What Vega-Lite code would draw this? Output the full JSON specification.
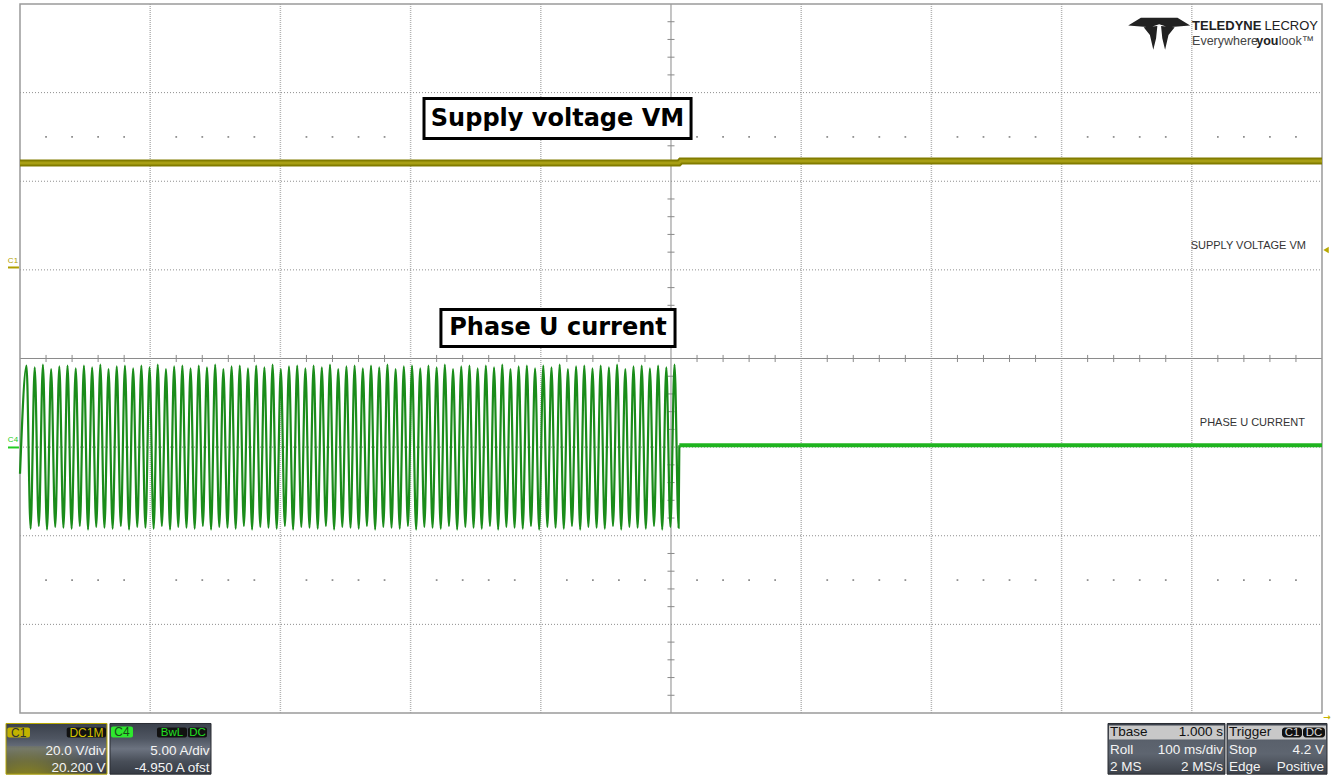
{
"$schema": "https://vega.github.io/schema/vega-lite/v6.json",
"width": 1333, "height": 775,
"autosize": {"type": "none"},
"padding": 0,
"background": "white",
"config": {"view": {"stroke": null}, "axis": {"disable": true}},
"data": {"values": [{}]},
"datasets": {
"gx": [{"v":1},{"v":2},{"v":3},{"v":4},{"v":6},{"v":7},{"v":8},{"v":9}],
"gy": [{"v":-3},{"v":-2},{"v":-1},{"v":1},{"v":2},{"v":3}],
"tx": [{"v":0.2},{"v":0.4},{"v":0.6},{"v":0.8},{"v":1.2},{"v":1.4},{"v":1.6},{"v":1.8},{"v":2.2},{"v":2.4},{"v":2.6},{"v":2.8},{"v":3.2},{"v":3.4},{"v":3.6},{"v":3.8},{"v":4.2},{"v":4.4},{"v":4.6},{"v":4.8},{"v":5.2},{"v":5.4},{"v":5.6},{"v":5.8},{"v":6.2},{"v":6.4},{"v":6.6},{"v":6.8},{"v":7.2},{"v":7.4},{"v":7.6},{"v":7.8},{"v":8.2},{"v":8.4},{"v":8.6},{"v":8.8},{"v":9.2},{"v":9.4},{"v":9.6},{"v":9.8}],
"ty": [{"v":-3.8},{"v":-3.6},{"v":-3.4},{"v":-3.2},{"v":-2.8},{"v":-2.6},{"v":-2.4},{"v":-2.2},{"v":-1.8},{"v":-1.6},{"v":-1.4},{"v":-1.2},{"v":-0.8},{"v":-0.6},{"v":-0.4},{"v":-0.2},{"v":0.2},{"v":0.4},{"v":0.6},{"v":0.8},{"v":1.2},{"v":1.4},{"v":1.6},{"v":1.8},{"v":2.2},{"v":2.4},{"v":2.6},{"v":2.8},{"v":3.2},{"v":3.4},{"v":3.6},{"v":3.8}],
"vm": [{"t":0,"v":2.205},{"t":5.06,"v":2.205},{"t":5.075,"v":2.228},{"t":10,"v":2.228}],
"flat": [{"t":5.064,"v":-0.978},{"t":10,"v":-0.978}],
"osc": [{"t":0.0,"v":-1.3},
{"t":0.050,"v":-0.08},{"t":0.0815,"v":-1.92},{"t":0.113,"v":-0.10},{"t":0.1445,"v":-1.89},{"t":0.176,"v":-0.07},{"t":0.2075,"v":-1.93},{"t":0.239,"v":-0.12},{"t":0.2705,"v":-1.90},{"t":0.302,"v":-0.09},{"t":0.3335,"v":-1.91},
{"t":0.365,"v":-0.08},{"t":0.3965,"v":-1.92},{"t":0.428,"v":-0.11},{"t":0.4595,"v":-1.89},{"t":0.491,"v":-0.08},{"t":0.5225,"v":-1.93},{"t":0.554,"v":-0.10},{"t":0.5855,"v":-1.90},{"t":0.617,"v":-0.07},{"t":0.6485,"v":-1.91},
{"t":0.680,"v":-0.12},{"t":0.7115,"v":-1.92},{"t":0.743,"v":-0.09},{"t":0.7745,"v":-1.89},{"t":0.806,"v":-0.08},{"t":0.8375,"v":-1.93},{"t":0.869,"v":-0.11},{"t":0.9005,"v":-1.90},{"t":0.932,"v":-0.08},{"t":0.9635,"v":-1.91},
{"t":0.995,"v":-0.10},{"t":1.0265,"v":-1.92},{"t":1.058,"v":-0.07},{"t":1.0895,"v":-1.89},{"t":1.121,"v":-0.12},{"t":1.1525,"v":-1.93},{"t":1.184,"v":-0.09},{"t":1.2155,"v":-1.90},{"t":1.247,"v":-0.08},{"t":1.2785,"v":-1.91},
{"t":1.310,"v":-0.11},{"t":1.3415,"v":-1.92},{"t":1.373,"v":-0.08},{"t":1.4045,"v":-1.89},{"t":1.436,"v":-0.10},{"t":1.4675,"v":-1.93},{"t":1.499,"v":-0.07},{"t":1.5305,"v":-1.90},{"t":1.562,"v":-0.12},{"t":1.5935,"v":-1.91},
{"t":1.625,"v":-0.09},{"t":1.6565,"v":-1.92},{"t":1.688,"v":-0.08},{"t":1.7195,"v":-1.89},{"t":1.751,"v":-0.11},{"t":1.7825,"v":-1.93},{"t":1.814,"v":-0.08},{"t":1.8455,"v":-1.90},{"t":1.877,"v":-0.10},{"t":1.9085,"v":-1.91},
{"t":1.940,"v":-0.07},{"t":1.9715,"v":-1.92},{"t":2.003,"v":-0.12},{"t":2.0345,"v":-1.89},{"t":2.066,"v":-0.09},{"t":2.0975,"v":-1.93},{"t":2.129,"v":-0.08},{"t":2.1605,"v":-1.90},{"t":2.192,"v":-0.11},{"t":2.2235,"v":-1.91},
{"t":2.255,"v":-0.08},{"t":2.2865,"v":-1.92},{"t":2.318,"v":-0.10},{"t":2.3495,"v":-1.89},{"t":2.381,"v":-0.07},{"t":2.4125,"v":-1.93},{"t":2.444,"v":-0.12},{"t":2.4755,"v":-1.90},{"t":2.507,"v":-0.09},{"t":2.5385,"v":-1.91},
{"t":2.570,"v":-0.08},{"t":2.6015,"v":-1.92},{"t":2.633,"v":-0.11},{"t":2.6645,"v":-1.89},{"t":2.696,"v":-0.08},{"t":2.7275,"v":-1.93},{"t":2.759,"v":-0.10},{"t":2.7905,"v":-1.90},{"t":2.822,"v":-0.07},{"t":2.8535,"v":-1.91},
{"t":2.885,"v":-0.12},{"t":2.9165,"v":-1.92},{"t":2.948,"v":-0.09},{"t":2.9795,"v":-1.89},{"t":3.011,"v":-0.08},{"t":3.0425,"v":-1.93},{"t":3.074,"v":-0.11},{"t":3.1055,"v":-1.90},{"t":3.137,"v":-0.08},{"t":3.1685,"v":-1.91},
{"t":3.200,"v":-0.10},{"t":3.2315,"v":-1.92},{"t":3.263,"v":-0.07},{"t":3.2945,"v":-1.89},{"t":3.326,"v":-0.12},{"t":3.3575,"v":-1.93},{"t":3.389,"v":-0.09},{"t":3.4205,"v":-1.90},{"t":3.452,"v":-0.08},{"t":3.4835,"v":-1.91},
{"t":3.515,"v":-0.11},{"t":3.5465,"v":-1.92},{"t":3.578,"v":-0.08},{"t":3.6095,"v":-1.89},{"t":3.641,"v":-0.10},{"t":3.6725,"v":-1.93},{"t":3.704,"v":-0.07},{"t":3.7355,"v":-1.90},{"t":3.767,"v":-0.12},{"t":3.7985,"v":-1.91},
{"t":3.830,"v":-0.09},{"t":3.8615,"v":-1.92},{"t":3.893,"v":-0.08},{"t":3.9245,"v":-1.89},{"t":3.956,"v":-0.11},{"t":3.9875,"v":-1.93},{"t":4.019,"v":-0.08},{"t":4.0505,"v":-1.90},{"t":4.082,"v":-0.10},{"t":4.1135,"v":-1.91},
{"t":4.145,"v":-0.07},{"t":4.1765,"v":-1.92},{"t":4.208,"v":-0.12},{"t":4.2395,"v":-1.89},{"t":4.271,"v":-0.09},{"t":4.3025,"v":-1.93},{"t":4.334,"v":-0.08},{"t":4.3655,"v":-1.90},{"t":4.397,"v":-0.11},{"t":4.4285,"v":-1.91},
{"t":4.460,"v":-0.08},{"t":4.4915,"v":-1.92},{"t":4.523,"v":-0.10},{"t":4.5545,"v":-1.89},{"t":4.586,"v":-0.07},{"t":4.6175,"v":-1.93},{"t":4.649,"v":-0.12},{"t":4.6805,"v":-1.90},{"t":4.712,"v":-0.09},{"t":4.7435,"v":-1.91},
{"t":4.775,"v":-0.08},{"t":4.8065,"v":-1.92},{"t":4.838,"v":-0.11},{"t":4.8695,"v":-1.89},{"t":4.901,"v":-0.08},{"t":4.9325,"v":-1.93},{"t":4.964,"v":-0.10},{"t":4.9955,"v":-1.90},{"t":5.027,"v":-0.07},{"t":5.0585,"v":-1.91},
{"t":5.064,"v":-0.978}]
},
"layer": [
{"data": {"name": "gx"}, "mark": {"type": "rule", "color": "#b4b4b4", "strokeWidth": 1.5, "strokeDash": [1, 1]},
 "encoding": {"x": {"field": "v", "type": "quantitative", "scale": {"domain": [-0.1536, 10.0845], "nice": false, "zero": false}},
  "y": {"datum": -4, "scale": {"domain": [-4.6996, 4.0451], "nice": false, "zero": false}}, "y2": {"datum": 4}}},
{"data": {"name": "gy"}, "mark": {"type": "rule", "color": "#8c8c8c", "strokeWidth": 1, "strokeDash": [1, 2]},
 "encoding": {"y": {"field": "v", "type": "quantitative"}, "x": {"datum": 0}, "x2": {"datum": 10}}},
{"mark": {"type": "rule", "color": "#8a8a8a", "strokeWidth": 1}, "encoding": {"x": {"datum": 5}, "y": {"datum": -4}, "y2": {"datum": 4}}},
{"mark": {"type": "rule", "color": "#8a8a8a", "strokeWidth": 1}, "encoding": {"y": {"datum": 0}, "x": {"datum": 0}, "x2": {"datum": 10}}},
{"data": {"name": "tx"}, "mark": {"type": "rule", "color": "#8a8a8a", "strokeWidth": 1},
 "encoding": {"x": {"field": "v", "type": "quantitative"}, "y": {"datum": -0.04}, "y2": {"datum": 0.04}}},
{"data": {"name": "ty"}, "mark": {"type": "rule", "color": "#8a8a8a", "strokeWidth": 1},
 "encoding": {"y": {"field": "v", "type": "quantitative"}, "x": {"datum": 4.973}, "x2": {"datum": 5.027}}},
{"data": {"name": "tx"}, "mark": {"type": "square", "size": 3, "color": "#8a8a8a", "opacity": 1},
 "encoding": {"x": {"field": "v", "type": "quantitative"}, "y": {"datum": 2.5}}},
{"data": {"name": "tx"}, "mark": {"type": "square", "size": 3, "color": "#8a8a8a", "opacity": 1},
 "encoding": {"x": {"field": "v", "type": "quantitative"}, "y": {"datum": -2.5}}},
{"mark": {"type": "rect", "filled": false, "stroke": "#9a9a9a", "strokeWidth": 1.5},
 "encoding": {"x": {"datum": 0}, "x2": {"datum": 10}, "y": {"datum": -4}, "y2": {"datum": 4}}},
{"data": {"name": "vm"}, "mark": {"type": "line", "color": "#827c00", "strokeWidth": 7},
 "encoding": {"x": {"field": "t", "type": "quantitative"}, "y": {"field": "v", "type": "quantitative"}}},
{"data": {"name": "vm"}, "mark": {"type": "line", "color": "#a89f14", "strokeWidth": 3},
 "encoding": {"x": {"field": "t", "type": "quantitative"}, "y": {"field": "v", "type": "quantitative"}}},
{"data": {"name": "osc"}, "mark": {"type": "line", "color": "#1a8c1a", "strokeWidth": 2.2, "interpolate": "monotone"},
 "encoding": {"x": {"field": "t", "type": "quantitative"}, "y": {"field": "v", "type": "quantitative"}}},
{"data": {"name": "flat"}, "mark": {"type": "line", "color": "#1fb41f", "strokeWidth": 4},
 "encoding": {"x": {"field": "t", "type": "quantitative"}, "y": {"field": "v", "type": "quantitative"}}},
{"mark": {"type": "rect", "fill": "white", "stroke": "black", "strokeWidth": 3},
 "encoding": {"x": {"datum": 3.103}, "x2": {"datum": 5.154}, "y": {"datum": 2.934}, "y2": {"datum": 2.482}}},
{"mark": {"type": "text", "text": "Supply voltage VM", "font": "DejaVu Sans", "fontWeight": "bold", "fontSize": 24, "color": "black", "align": "center", "baseline": "middle"},
 "encoding": {"x": {"datum": 4.128}, "y": {"datum": 2.70}}},
{"mark": {"type": "rect", "fill": "white", "stroke": "black", "strokeWidth": 3},
 "encoding": {"x": {"datum": 3.233}, "x2": {"datum": 5.031}, "y": {"datum": 0.553}, "y2": {"datum": 0.135}}},
{"mark": {"type": "text", "text": "Phase U current", "font": "DejaVu Sans", "fontWeight": "bold", "fontSize": 24, "color": "black", "align": "center", "baseline": "middle"},
 "encoding": {"x": {"datum": 4.132}, "y": {"datum": 0.34}}},
{"mark": {"type": "text", "text": "SUPPLY VOLTAGE VM", "font": "Liberation Sans", "fontSize": 11, "color": "#333333", "align": "right", "baseline": "middle"},
 "encoding": {"x": {"datum": 9.877}, "y": {"datum": 1.275}}},
{"mark": {"type": "text", "text": "PHASE U CURRENT", "font": "Liberation Sans", "fontSize": 11, "color": "#333333", "align": "right", "baseline": "middle"},
 "encoding": {"x": {"datum": 9.869}, "y": {"datum": -0.733}}},
{"mark": {"type": "point", "shape": "triangle-left", "filled": true, "size": 40, "color": "#b8a800", "opacity": 1},
 "encoding": {"x": {"datum": 10.031}, "y": {"datum": 1.224}}},
{"mark": {"type": "text", "text": "C1", "font": "Liberation Sans", "fontSize": 8, "color": "#b0a000", "align": "center", "baseline": "middle"},
 "encoding": {"x": {"datum": -0.054}, "y": {"datum": 1.10}}},
{"mark": {"type": "rule", "color": "#b0a000", "strokeWidth": 2}, "encoding": {"x": {"datum": -0.092}, "x2": {"datum": -0.008}, "y": {"datum": 1.027}}},
{"mark": {"type": "text", "text": "C4", "font": "Liberation Sans", "fontSize": 8, "color": "#22cc22", "align": "center", "baseline": "middle"},
 "encoding": {"x": {"datum": -0.054}, "y": {"datum": -0.914}}},
{"mark": {"type": "rule", "color": "#22cc22", "strokeWidth": 2}, "encoding": {"x": {"datum": -0.092}, "x2": {"datum": -0.008}, "y": {"datum": -1.004}}},
{"mark": {"type": "point", "shape": "M-1,-0.26L-0.59,-0.51L0.59,-0.51L1,-0.26L0.3,-0.2L0,-0.3L-0.3,-0.2Z M-0.5,-0.2L-0.06,-0.24L-0.1,0.15L-0.19,0.52L-0.3,0.05Z M0.06,-0.24L0.5,-0.2L0.3,0.05L0.19,0.52L0.1,0.15Z", "filled": true, "size": 3844, "color": "#222222", "opacity": 1},
 "encoding": {"x": {"datum": 8.7496}, "y": {"datum": 3.667}}},
{"mark": {"type": "text", "text": "TELEDYNE", "font": "Liberation Sans", "fontWeight": "bold", "fontSize": 13, "color": "#222222", "align": "left", "baseline": "middle"},
 "encoding": {"x": {"datum": 9.002}, "y": {"datum": 3.757}}},
{"mark": {"type": "text", "text": "LECROY", "font": "Liberation Sans", "fontSize": 13, "color": "#222222", "align": "right", "baseline": "middle"},
 "encoding": {"x": {"datum": 9.969}, "y": {"datum": 3.757}}},
{"mark": {"type": "text", "text": "Everywhere", "font": "Liberation Sans", "fontSize": 12.5, "color": "#444444", "align": "left", "baseline": "middle"},
 "encoding": {"x": {"datum": 9.002}, "y": {"datum": 3.583}}},
{"mark": {"type": "text", "text": "you", "font": "Liberation Sans", "fontWeight": "bold", "fontSize": 12.5, "color": "#222222", "align": "left", "baseline": "middle"},
 "encoding": {"x": {"datum": 9.495}, "y": {"datum": 3.583}}},
{"mark": {"type": "text", "text": "look™", "font": "Liberation Sans", "fontSize": 12.5, "color": "#444444", "align": "left", "baseline": "middle"},
 "encoding": {"x": {"datum": 9.668}, "y": {"datum": 3.583}}},
{"mark": {"type": "text", "text": "→", "font": "DejaVu Sans", "fontWeight": "bold", "fontSize": 9, "color": "#c8b400", "align": "center", "baseline": "middle"},
 "encoding": {"x": {"datum": 10.038}, "y": {"datum": -4.04}}},
{"mark": {"type": "rect", "stroke": "#b8a800", "strokeWidth": 1, "fill": {"gradient": "linear", "x1": 0, "y1": 0, "x2": 0, "y2": 1, "stops": [{"offset": 0, "color": "#3a404b"}, {"offset": 0.3, "color": "#4f5662"}, {"offset": 0.5, "color": "#6c7380"}, {"offset": 0.75, "color": "#484e58"}, {"offset": 1, "color": "#363b44"}]}},
 "encoding": {"x": {"datum": -0.1075}, "x2": {"datum": 0.6682}, "y": {"datum": -4.1185}, "y2": {"datum": -4.69}}},
{"mark": {"type": "rect", "fill": {"gradient": "radial", "x1": 0.2, "y1": 1, "r1": 0, "x2": 0.2, "y2": 1, "r2": 0.8, "stops": [{"offset": 0, "color": "rgba(215,200,0,1)"}, {"offset": 0.5, "color": "rgba(170,160,20,0.6)"}, {"offset": 1, "color": "rgba(120,120,60,0)"}]}},
 "encoding": {"x": {"datum": -0.1075}, "x2": {"datum": 0.6682}, "y": {"datum": -4.38}, "y2": {"datum": -4.69}}},
{"mark": {"type": "rect", "fill": "#c2b200", "cornerRadius": 2}, "encoding": {"x": {"datum": -0.0975}, "x2": {"datum": 0.0768}, "y": {"datum": -4.164}, "y2": {"datum": -4.276}}},
{"mark": {"type": "text", "text": "C1", "font": "Liberation Sans", "fontSize": 12, "color": "#333333", "align": "center", "baseline": "middle"}, "encoding": {"x": {"datum": -0.01}, "y": {"datum": -4.222}}},
{"mark": {"type": "rect", "fill": "#111111", "cornerRadius": 2}, "encoding": {"x": {"datum": 0.3587}, "x2": {"datum": 0.6605}, "y": {"datum": -4.164}, "y2": {"datum": -4.276}}},
{"mark": {"type": "text", "text": "DC1M", "font": "Liberation Sans", "fontSize": 12, "color": "#d4c200", "align": "center", "baseline": "middle"}, "encoding": {"x": {"datum": 0.51}, "y": {"datum": -4.222}}},
{"mark": {"type": "text", "text": "20.0 V/div", "font": "Liberation Sans", "fontSize": 13.5, "color": "#f4f4f4", "align": "right", "baseline": "middle"}, "encoding": {"x": {"datum": 0.6567}, "y": {"datum": -4.429}}},
{"mark": {"type": "text", "text": "20.200 V", "font": "Liberation Sans", "fontSize": 13.5, "color": "#f4f4f4", "align": "right", "baseline": "middle"}, "encoding": {"x": {"datum": 0.6567}, "y": {"datum": -4.615}}},
{"mark": {"type": "rect", "stroke": "#2a2d33", "strokeWidth": 1, "fill": {"gradient": "linear", "x1": 0, "y1": 0, "x2": 0, "y2": 1, "stops": [{"offset": 0, "color": "#3a404b"}, {"offset": 0.3, "color": "#4f5662"}, {"offset": 0.5, "color": "#6c7380"}, {"offset": 0.75, "color": "#484e58"}, {"offset": 1, "color": "#363b44"}]}},
 "encoding": {"x": {"datum": 0.6912}, "x2": {"datum": 1.467}, "y": {"datum": -4.1185}, "y2": {"datum": -4.69}}},
{"mark": {"type": "rect", "fill": "#2ee82e", "cornerRadius": 2}, "encoding": {"x": {"datum": 0.6989}, "x2": {"datum": 0.8679}, "y": {"datum": -4.153}, "y2": {"datum": -4.276}}},
{"mark": {"type": "text", "text": "C4", "font": "Liberation Sans", "fontSize": 12, "color": "#1a4a1a", "align": "center", "baseline": "middle"}, "encoding": {"x": {"datum": 0.7834}, "y": {"datum": -4.215}}},
{"mark": {"type": "rect", "fill": "#111111", "cornerRadius": 2}, "encoding": {"x": {"datum": 1.0522}, "x2": {"datum": 1.2826}, "y": {"datum": -4.164}, "y2": {"datum": -4.276}}},
{"mark": {"type": "text", "text": "BwL", "font": "Liberation Sans", "fontSize": 11.5, "color": "#22e022", "align": "center", "baseline": "middle"}, "encoding": {"x": {"datum": 1.1674}, "y": {"datum": -4.222}}},
{"mark": {"type": "rect", "fill": "#111111", "cornerRadius": 2}, "encoding": {"x": {"datum": 1.2903}, "x2": {"datum": 1.4363}, "y": {"datum": -4.164}, "y2": {"datum": -4.276}}},
{"mark": {"type": "text", "text": "DC", "font": "Liberation Sans", "fontSize": 11.5, "color": "#22e022", "align": "center", "baseline": "middle"}, "encoding": {"x": {"datum": 1.3633}, "y": {"datum": -4.222}}},
{"mark": {"type": "text", "text": "5.00 A/div", "font": "Liberation Sans", "fontSize": 13.5, "color": "#f4f4f4", "align": "right", "baseline": "middle"}, "encoding": {"x": {"datum": 1.4555}, "y": {"datum": -4.429}}},
{"mark": {"type": "text", "text": "-4.950 A ofst", "font": "Liberation Sans", "fontSize": 13.5, "color": "#f4f4f4", "align": "right", "baseline": "middle"}, "encoding": {"x": {"datum": 1.4555}, "y": {"datum": -4.615}}},
{"mark": {"type": "rect", "stroke": "#2a2d33", "strokeWidth": 1, "fill": {"gradient": "linear", "x1": 0, "y1": 0, "x2": 0, "y2": 1, "stops": [{"offset": 0, "color": "#3a404b"}, {"offset": 0.35, "color": "#5a616c"}, {"offset": 0.6, "color": "#5e6570"}, {"offset": 1, "color": "#3c4149"}]}},
 "encoding": {"x": {"datum": 8.3564}, "x2": {"datum": 9.255}, "y": {"datum": -4.1185}, "y2": {"datum": -4.69}}},
{"mark": {"type": "rect", "fill": "#c8c8c8"}, "encoding": {"x": {"datum": 8.364}, "x2": {"datum": 9.247}, "y": {"datum": -4.141}, "y2": {"datum": -4.299}}},
{"mark": {"type": "text", "text": "Tbase", "font": "Liberation Sans", "fontSize": 13.5, "color": "#111111", "align": "left", "baseline": "middle"}, "encoding": {"x": {"datum": 8.3717}, "y": {"datum": -4.220}}},
{"mark": {"type": "text", "text": "1.000 s", "font": "Liberation Sans", "fontSize": 13.5, "color": "#111111", "align": "right", "baseline": "middle"}, "encoding": {"x": {"datum": 9.2396}, "y": {"datum": -4.220}}},
{"mark": {"type": "text", "text": "Roll", "font": "Liberation Sans", "fontSize": 13.5, "color": "#f4f4f4", "align": "left", "baseline": "middle"}, "encoding": {"x": {"datum": 8.3717}, "y": {"datum": -4.423}}},
{"mark": {"type": "text", "text": "2 MS", "font": "Liberation Sans", "fontSize": 13.5, "color": "#f4f4f4", "align": "left", "baseline": "middle"}, "encoding": {"x": {"datum": 8.3717}, "y": {"datum": -4.608}}},
{"mark": {"type": "text", "text": "100 ms/div", "font": "Liberation Sans", "fontSize": 13.5, "color": "#f4f4f4", "align": "right", "baseline": "middle"}, "encoding": {"x": {"datum": 9.2396}, "y": {"datum": -4.423}}},
{"mark": {"type": "text", "text": "2 MS/s", "font": "Liberation Sans", "fontSize": 13.5, "color": "#f4f4f4", "align": "right", "baseline": "middle"}, "encoding": {"x": {"datum": 9.2396}, "y": {"datum": -4.608}}},
{"mark": {"type": "rect", "stroke": "#2a2d33", "strokeWidth": 1, "fill": {"gradient": "linear", "x1": 0, "y1": 0, "x2": 0, "y2": 1, "stops": [{"offset": 0, "color": "#3a404b"}, {"offset": 0.35, "color": "#5a616c"}, {"offset": 0.6, "color": "#5e6570"}, {"offset": 1, "color": "#3c4149"}]}},
 "encoding": {"x": {"datum": 9.2704}, "x2": {"datum": 10.0384}, "y": {"datum": -4.1185}, "y2": {"datum": -4.69}}},
{"mark": {"type": "rect", "fill": "#c8c8c8"}, "encoding": {"x": {"datum": 9.278}, "x2": {"datum": 10.031}, "y": {"datum": -4.141}, "y2": {"datum": -4.299}}},
{"mark": {"type": "text", "text": "Trigger", "font": "Liberation Sans", "fontSize": 13.5, "color": "#111111", "align": "left", "baseline": "middle"}, "encoding": {"x": {"datum": 9.2857}, "y": {"datum": -4.220}}},
{"mark": {"type": "rect", "fill": "#111111", "cornerRadius": 3}, "encoding": {"x": {"datum": 9.6928}, "x2": {"datum": 9.8464}, "y": {"datum": -4.164}, "y2": {"datum": -4.276}}},
{"mark": {"type": "text", "text": "C1", "font": "Liberation Sans", "fontSize": 11.5, "color": "#d8d8d8", "align": "center", "baseline": "middle"}, "encoding": {"x": {"datum": 9.7696}, "y": {"datum": -4.222}}},
{"mark": {"type": "rect", "fill": "#111111", "cornerRadius": 3}, "encoding": {"x": {"datum": 9.8541}, "x2": {"datum": 10.023}, "y": {"datum": -4.164}, "y2": {"datum": -4.276}}},
{"mark": {"type": "text", "text": "DC", "font": "Liberation Sans", "fontSize": 11.5, "color": "#d8d8d8", "align": "center", "baseline": "middle"}, "encoding": {"x": {"datum": 9.9386}, "y": {"datum": -4.222}}},
{"mark": {"type": "text", "text": "Stop", "font": "Liberation Sans", "fontSize": 13.5, "color": "#f4f4f4", "align": "left", "baseline": "middle"}, "encoding": {"x": {"datum": 9.2857}, "y": {"datum": -4.423}}},
{"mark": {"type": "text", "text": "Edge", "font": "Liberation Sans", "fontSize": 13.5, "color": "#f4f4f4", "align": "left", "baseline": "middle"}, "encoding": {"x": {"datum": 9.2857}, "y": {"datum": -4.608}}},
{"mark": {"type": "text", "text": "4.2 V", "font": "Liberation Sans", "fontSize": 13.5, "color": "#f4f4f4", "align": "right", "baseline": "middle"}, "encoding": {"x": {"datum": 10.0154}, "y": {"datum": -4.423}}},
{"mark": {"type": "text", "text": "Positive", "font": "Liberation Sans", "fontSize": 13.5, "color": "#f4f4f4", "align": "right", "baseline": "middle"}, "encoding": {"x": {"datum": 10.0154}, "y": {"datum": -4.608}}}
]
}
